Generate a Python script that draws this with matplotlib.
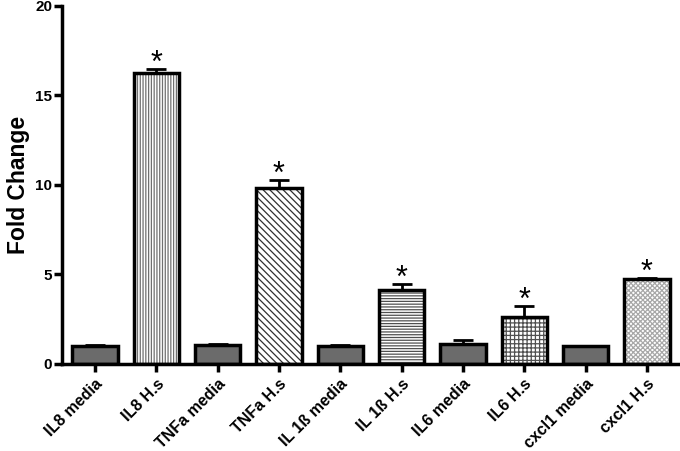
import matplotlib
matplotlib.use("Agg")
import matplotlib.pyplot as plt

categories = ["IL8 media", "IL8 H.s", "TNFa media", "TNFa H.s", "IL 1ß media",
              "IL 1ß H.s", "IL6 media", "IL6 H.s", "cxcl1 media", "cxcl1 H.s"]
values = [1.0, 16.25, 1.05, 9.8, 1.0, 4.15, 1.1, 2.65, 1.0, 4.72]
errors = [0.05, 0.2, 0.08, 0.45, 0.05, 0.3, 0.22, 0.6, 0.03, 0.08]
significant = [False, True, False, True, False, True, False, True, False, True]
hatches = [None, "||||||", None, "\\\\\\\\\\", None, "------", None, "++++", None, "xxxxxxx"]
hatch_colors = [None, "#707070", None, "#303030", None, "#505050", None, "#505050", None, "#a8a8a8"]

plt.rcParams['font.family'] = ['Liberation Sans', 'DejaVu Sans']
plt.rcParams['hatch.linewidth'] = 0.9
fig = plt.figure(figsize=(6.8, 4.51), dpi=100)
ax = fig.add_axes([0.091, 0.193, 0.909, 0.794])

x = list(range(len(categories)))
W = 0.74
for i in x:
    if hatches[i] is None:
        ax.bar(i, values[i], width=W, color="#6b6b6b", edgecolor="black",
               linewidth=2.5, zorder=2)
    else:
        ax.bar(i, values[i], width=W, color="white", edgecolor=hatch_colors[i],
               linewidth=0, hatch=hatches[i], zorder=2)
        ax.bar(i, values[i], width=W, fill=False, edgecolor="black",
               linewidth=2.5, zorder=3)
    ax.errorbar(i, values[i], yerr=[[0], [errors[i]]], fmt="none", ecolor="black",
                elinewidth=2, capsize=7, capthick=2, zorder=1)
    if significant[i]:
        ax.text(i, values[i] + errors[i] - 0.55, "*", ha="center", va="bottom",
                fontsize=22)

ax.set_xlim(-0.54, 9.54)
ax.set_ylim(0, 20)
ax.set_yticks([0, 5, 10, 15, 20])
ax.set_xticks(x)
ax.set_xticklabels(categories, rotation=45, ha="right", rotation_mode="anchor",
                   fontsize=11.5, fontweight="bold")
for lab in ax.get_yticklabels():
    lab.set_fontweight("bold")
    lab.set_fontsize(11)
ax.set_ylabel("Fold Change", fontsize=16.5, fontweight="bold", labelpad=4)
ax.spines["top"].set_visible(False)
ax.spines["right"].set_visible(False)
ax.spines["left"].set_linewidth(2.5)
ax.spines["bottom"].set_linewidth(2.5)
ax.tick_params(axis="both", direction="out", width=2.5, length=6)
ax.tick_params(axis="y", pad=1)
ax.tick_params(axis="x", pad=3)

fig.savefig("out.png", dpi=100)
